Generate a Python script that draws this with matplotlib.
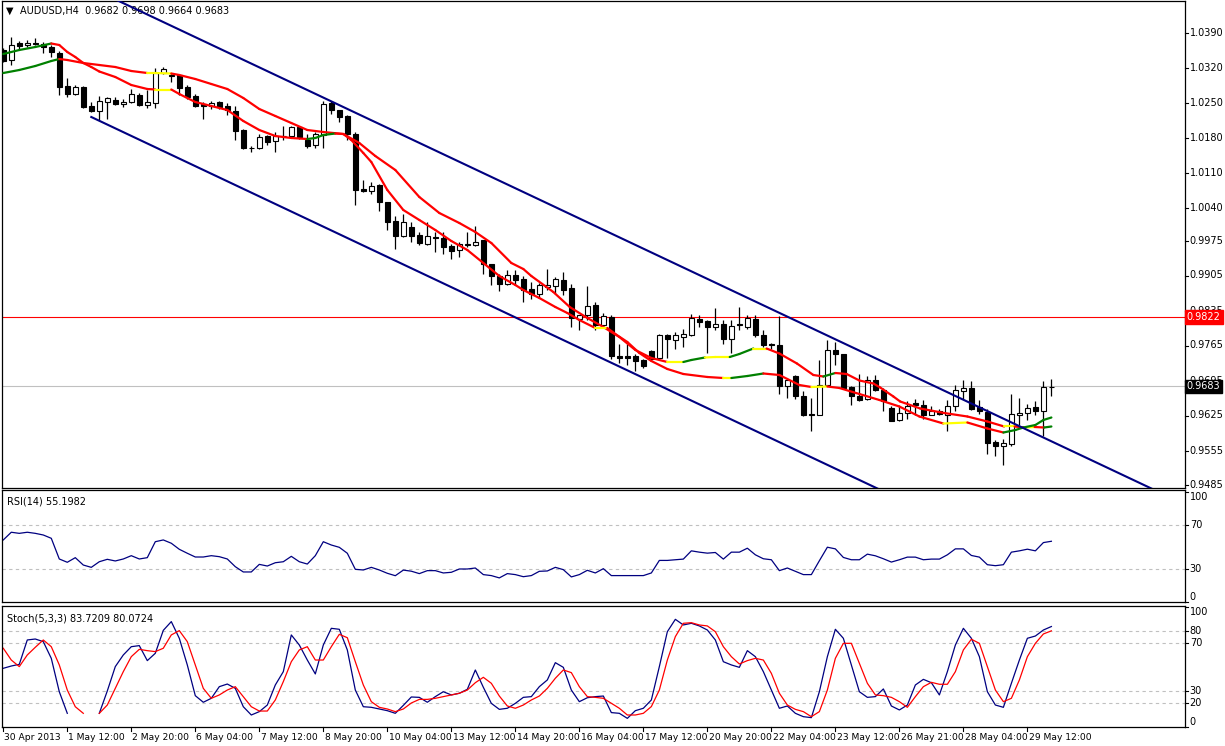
import numpy as np
import matplotlib
matplotlib.use("Agg")
import matplotlib.pyplot as plt
from matplotlib.collections import LineCollection

plt.rcParams['font.family'] = ['DejaVu Sans']

# ---- price data (AUDUSD H4), one entry per bar ----
opens = [1.0356, 1.0336, 1.0371, 1.0367, 1.0371, 1.0369, 1.0362, 1.0351, 1.0284, 1.0269,
         1.0282, 1.0245, 1.0235, 1.0253, 1.0257, 1.0249, 1.0253, 1.0266, 1.0246, 1.0251,
         1.0311, 1.0307, 1.0306, 1.0282, 1.0264, 1.0249, 1.0245, 1.0252, 1.0244, 1.0235,
         1.0196, 1.0161, 1.0161, 1.0184, 1.0175, 1.0185, 1.0185, 1.0201, 1.0176, 1.0166,
         1.0186, 1.0251, 1.0235, 1.0224, 1.0189, 1.0078, 1.0074, 1.0086, 1.0051, 1.0014,
         0.9985, 1.0002, 0.9985, 0.9969, 0.9982, 0.9980, 0.9964, 0.9956, 0.9967, 0.9967,
         0.9975, 0.9928, 0.9904, 0.9889, 0.9905, 0.9899, 0.9878, 0.9869, 0.9883, 0.9885,
         0.9896, 0.9879, 0.9819, 0.9826, 0.9845, 0.9806, 0.9823, 0.9744, 0.9744, 0.9744,
         0.9736, 0.9753, 0.9741, 0.9785, 0.9777, 0.9783, 0.9787, 0.9818, 0.9814, 0.9803,
         0.9809, 0.9779, 0.9808, 0.9803, 0.9818, 0.9787, 0.9768, 0.9766, 0.9685, 0.9704,
         0.9664, 0.9629, 0.9627, 0.9687, 0.9756, 0.9748, 0.9681, 0.9664, 0.9659, 0.9696,
         0.9676, 0.9641, 0.9617, 0.9631, 0.9651, 0.9647, 0.9627, 0.9633, 0.9627, 0.9643,
         0.9675, 0.9681, 0.9641, 0.9633, 0.9571, 0.9564, 0.9568, 0.9627, 0.9631, 0.9641,
         0.9633, 0.9682]
highs = [1.0360, 1.0383, 1.0374, 1.0377, 1.0380, 1.0373, 1.0366, 1.0354, 1.0300, 1.0286,
         1.0284, 1.0252, 1.0264, 1.0263, 1.0263, 1.0258, 1.0278, 1.0271, 1.0276, 1.0321,
         1.0323, 1.0311, 1.0309, 1.0286, 1.0269, 1.0253, 1.0254, 1.0254, 1.0251, 1.0245,
         1.0198, 1.0165, 1.0188, 1.0186, 1.0193, 1.0204, 1.0204, 1.0204, 1.0189, 1.0193,
         1.0255, 1.0254, 1.0237, 1.0226, 1.0193, 1.0096, 1.0093, 1.0089, 1.0053, 1.0024,
         1.0029, 1.0013, 0.9993, 1.0013, 0.9993, 0.9993, 0.9969, 0.9973, 0.9993, 1.0004,
         0.9976, 0.9929, 0.9909, 0.9916, 0.9916, 0.9904, 0.9893, 0.9891, 0.9919, 0.9903,
         0.9913, 0.9888, 0.9826, 0.9884, 0.9853, 0.9831, 0.9826, 0.9769, 0.9769, 0.9749,
         0.9739, 0.9756, 0.9788, 0.9789, 0.9793, 0.9799, 0.9828, 0.9826, 0.9816, 0.9841,
         0.9816, 0.9816, 0.9843, 0.9826, 0.9826, 0.9796, 0.9771, 0.9825, 0.9701, 0.9706,
         0.9673, 0.9660, 0.9736, 0.9777, 0.9773, 0.9749, 0.9684, 0.9709, 0.9704, 0.9706,
         0.9681, 0.9643, 0.9643, 0.9653, 0.9658, 0.9656, 0.9643, 0.9639, 0.9656, 0.9686,
         0.9696, 0.9693, 0.9656, 0.9639, 0.9576, 0.9579, 0.9669, 0.9661, 0.9649, 0.9653,
         0.9693, 0.9698]
lows = [1.0332, 1.0327, 1.0358, 1.0362, 1.0366, 1.0351, 1.0343, 1.0266, 1.0263, 1.0266,
        1.0241, 1.0233, 1.0216, 1.0218, 1.0246, 1.0243, 1.0251, 1.0244, 1.0241, 1.0241,
        1.0309, 1.0293, 1.0267, 1.0259, 1.0243, 1.0219, 1.0238, 1.0239, 1.0227, 1.0176,
        1.0159, 1.0153, 1.0159, 1.0166, 1.0153, 1.0176, 1.0183, 1.0179, 1.0160, 1.0161,
        1.0161, 1.0229, 1.0213, 1.0176, 1.0046, 1.0073, 1.0069, 1.0035, 0.9996, 0.9959,
        0.9983, 0.9973, 0.9966, 0.9966, 0.9953, 0.9949, 0.9939, 0.9943, 0.9963, 0.9964,
        0.9909, 0.9886, 0.9875, 0.9886, 0.9889, 0.9853, 0.9859, 0.9863, 0.9876, 0.9869,
        0.9866, 0.9803, 0.9796, 0.9816, 0.9796, 0.9803, 0.9739, 0.9731, 0.9726, 0.9713,
        0.9721, 0.9733, 0.9739, 0.9741, 0.9759, 0.9763, 0.9785, 0.9803, 0.9751, 0.9796,
        0.9769, 0.9751, 0.9797, 0.9799, 0.9783, 0.9763, 0.9759, 0.9669, 0.9661, 0.9659,
        0.9624, 0.9593, 0.9626, 0.9684, 0.9726, 0.9679, 0.9646, 0.9653, 0.9656, 0.9673,
        0.9633, 0.9613, 0.9613, 0.9619, 0.9626, 0.9619, 0.9626, 0.9626, 0.9595, 0.9633,
        0.9659, 0.9636, 0.9629, 0.9548, 0.9544, 0.9526, 0.9563, 0.9606, 0.9616, 0.9626,
        0.9583, 0.9664]
closes = [1.0334, 1.0367, 1.0365, 1.0371, 1.0369, 1.0362, 1.0353, 1.0283, 1.0269, 1.0282,
          1.0243, 1.0235, 1.0253, 1.0260, 1.0249, 1.0253, 1.0268, 1.0246, 1.0252, 1.0311,
          1.0319, 1.0305, 1.0281, 1.0263, 1.0245, 1.0245, 1.0251, 1.0243, 1.0236, 1.0195,
          1.0161, 1.0160, 1.0183, 1.0173, 1.0184, 1.0184, 1.0201, 1.0183, 1.0165, 1.0189,
          1.0249, 1.0236, 1.0223, 1.0189, 1.0077, 1.0074, 1.0085, 1.0051, 1.0013, 0.9985,
          1.0012, 0.9985, 0.9971, 0.9983, 0.9980, 0.9963, 0.9955, 0.9969, 0.9969, 0.9972,
          0.9929, 0.9904, 0.9889, 0.9905, 0.9897, 0.9876, 0.9869, 0.9886, 0.9886, 0.9897,
          0.9876, 0.9821, 0.9826, 0.9844, 0.9806, 0.9824, 0.9743, 0.9741, 0.9741, 0.9734,
          0.9723, 0.9739, 0.9786, 0.9779, 0.9785, 0.9787, 0.9820, 0.9813, 0.9803, 0.9807,
          0.9779, 0.9805, 0.9807, 0.9820, 0.9786, 0.9766, 0.9767, 0.9684, 0.9696, 0.9663,
          0.9626, 0.9627, 0.9687, 0.9757, 0.9749, 0.9681, 0.9663, 0.9657, 0.9696, 0.9676,
          0.9653, 0.9615, 0.9629, 0.9643, 0.9646, 0.9626, 0.9633, 0.9629, 0.9644, 0.9676,
          0.9681, 0.9639, 0.9633, 0.9571, 0.9563, 0.9569, 0.9627, 0.9631, 0.9639, 0.9633,
          0.9681, 0.9683]

# ---- moving averages, sampled along the bars ----
ma_fast_bars = [0, 2, 4, 6, 7, 8, 9, 10, 11, 12, 14, 16, 18, 19, 21, 22, 24, 26, 28, 30,
                32, 34, 36, 38, 39, 40, 41.5, 42.5, 43.5, 45, 46, 48, 50, 52, 54, 56, 58, 60,
                62, 64, 65, 67, 69, 70.5, 72, 74, 75.5, 76.5, 78, 79.5, 81, 83, 85, 88, 90,
                91, 93, 95, 97, 99.5, 101, 103, 104.5, 107, 109.5, 112, 114.5, 117.5, 120.5,
                123, 125, 126.5, 127.5, 129, 130, 131]
ma_fast = [1.0348, 1.0356, 1.0362, 1.0369, 1.0366, 1.0352, 1.0342, 1.0330, 1.0322, 1.0313,
           1.0302, 1.0286, 1.0278, 1.0277, 1.0277, 1.0268, 1.0252, 1.0244, 1.0236, 1.0214,
           1.0196, 1.0184, 1.0180, 1.0178, 1.0180, 1.0186, 1.0189, 1.0188, 1.0176, 1.0150,
           1.0132, 1.0076, 1.0036, 1.0016, 0.9996, 0.9974, 0.9956, 0.9930, 0.9904, 0.9886,
           0.9876, 0.9860, 0.9842, 0.9830, 0.9816, 0.9800, 0.9800, 0.9788, 0.9772, 0.9750,
           0.9734, 0.9718, 0.9708, 0.9702, 0.9700, 0.9700, 0.9704, 0.9709, 0.9706, 0.9686,
           0.9682, 0.9683, 0.9680, 0.9668, 0.9656, 0.9643, 0.9623, 0.9609, 0.9611, 0.9599,
           0.9591, 0.9596, 0.9601, 0.9606, 0.9616, 0.9621]
ma_slow_bars = [0, 2, 4, 6, 7, 8, 10, 12, 14, 16, 18, 19, 21, 22, 24, 26, 28, 30, 32, 34,
                36, 38, 40, 42.5, 44.5, 46.5, 49, 52, 54.5, 57, 59, 61, 63.5, 65, 66, 68.75,
                70.8, 73, 75, 77, 79, 81, 83, 85, 86, 87.7, 89, 90.8, 92, 93.75, 95.4, 97,
                99.2, 101.25, 102.5, 104, 105.4, 107, 108.75, 109.6, 111.25, 112.1, 114.6,
                117.6, 120.5, 123, 125.1, 126.4, 127.6, 128.9, 130.1, 131]
ma_slow = [1.0310, 1.0316, 1.0324, 1.0334, 1.0338, 1.0336, 1.0330, 1.0326, 1.0322, 1.0314,
           1.0310, 1.0310, 1.0309, 1.0306, 1.0298, 1.0288, 1.0278, 1.0260, 1.0238, 1.0224,
           1.0210, 1.0196, 1.0192, 1.0188, 1.0170, 1.0144, 1.0116, 1.0062, 1.0030, 1.0010,
           0.9992, 0.9970, 0.9930, 0.9918, 0.9904, 0.9872, 0.9842, 0.9820, 0.9802, 0.9782,
           0.9756, 0.9740, 0.9732, 0.9732, 0.9736, 0.9741, 0.9742, 0.9742, 0.9748, 0.9759,
           0.9759, 0.9749, 0.9729, 0.9706, 0.9703, 0.9710, 0.9708, 0.9695, 0.9689, 0.9681,
           0.9663, 0.9653, 0.9639, 0.9630, 0.9623, 0.9613, 0.9603, 0.9603, 0.9601, 0.9602,
           0.9601, 0.9603]

# ---- channel and horizontal levels ----
upper_channel_bars = [0, 148]
upper_channel = [1.0563, 0.9445]
lower_channel_bars = [11, 148]
lower_channel = [1.0222, 0.9186]
resistance = 0.9822
bid = 0.9683

# ---- oscillators ----
rsi = [56.4, 63.4, 62.4, 63.4, 62.4, 60.9, 57.9, 39.1, 36.1, 40.3,
       33.6, 31.5, 36.6, 38.8, 37.3, 39.1, 42.1, 39.1, 40.3, 54.8,
       56.4, 53.4, 47.9, 44.3, 40.9, 40.9, 42.1, 41.2, 39.1, 32.1,
       27.3, 27.3, 34.2, 32.7, 35.7, 36.6, 41.5, 36.6, 34.5, 42.1,
       54.8, 51.8, 49.7, 44.3, 29.7, 29.1, 31.5, 29.1, 26.1, 23.9,
       29.0, 28.0, 25.8, 28.5, 28.5, 26.4, 27.0, 30.0, 30.0, 30.9,
       24.9, 24.0, 21.9, 25.8, 24.9, 23.0, 24.0, 27.9, 28.2, 31.5,
       29.4, 22.8, 24.9, 28.8, 26.4, 30.3, 24.0, 24.0, 24.0, 24.0,
       24.0, 26.4, 37.8, 37.8, 38.4, 39.0, 46.5, 45.3, 44.4, 45.0,
       39.0, 45.3, 45.3, 48.9, 42.9, 39.3, 38.4, 28.5, 30.9, 27.9,
       24.9, 24.9, 37.5, 49.8, 48.3, 40.5, 38.4, 38.4, 43.5, 42.0,
       39.3, 36.3, 38.4, 40.8, 40.8, 38.4, 39.0, 39.0, 42.9, 48.3,
       48.3, 42.3, 40.8, 33.9, 33.0, 33.9, 45.3, 46.5, 48.0, 46.5,
       54.0, 55.2]
nan = float('nan')
stoch_k = [48.9, 50.8, 52.2, 72.5, 73.3, 71.1, 57.2, 29.4, 11.4, nan,
           nan, nan, 11.4, 30.0, 50.3, 60.0, 66.9, 67.8, 55.3, 61.4,
           80.5, 87.8, 73.9, 51.7, 26.1, 20.6, 23.9, 33.6, 35.8, 32.2,
           16.9, 10.0, 12.8, 18.3, 35.0, 46.1, 76.7, 68.3, 55.8, 44.2,
           68.3, 82.2, 81.4, 64.2, 30.8, 16.9, 16.4, 15.0, 13.6, 11.4,
           18.0, 25.0, 24.7, 20.6, 25.3, 29.4, 26.7, 28.1, 31.4, 47.5,
           33.1, 19.7, 14.7, 15.6, 19.7, 24.7, 25.3, 33.6, 39.2, 53.6,
           49.7, 30.8, 21.1, 24.4, 25.3, 25.8, 12.0, 11.4, 7.2, 13.6,
           15.6, 22.5, 50.3, 79.4, 89.7, 85.0, 86.4, 84.2, 80.8, 72.5,
           54.4, 51.7, 49.7, 63.6, 58.6, 46.1, 30.8, 15.6, 17.5, 11.4,
           8.6, 7.8, 29.4, 58.6, 81.4, 73.9, 51.7, 29.4, 24.7, 25.3,
           31.7, 17.5, 14.2, 18.3, 35.0, 39.7, 36.9, 26.7, 46.1, 68.3,
           82.2, 73.9, 58.6, 29.4, 18.3, 16.4, 36.4, 55.8, 73.9, 75.8,
           80.8, 83.7]
stoch_d = [65.6, 55.8, 50.3, 60.0, 66.4, 72.5, 66.9, 51.7, 30.8, 16.9,
           11.4, nan, 11.4, 18.3, 32.2, 46.1, 58.6, 64.7, 63.6, 62.8,
           65.6, 76.7, 80.3, 71.1, 51.7, 32.2, 23.9, 26.7, 30.8, 33.6,
           25.3, 16.9, 13.3, 13.3, 22.5, 37.8, 54.4, 64.2, 66.9, 55.8,
           55.8, 66.9, 77.2, 74.4, 54.4, 35.0, 21.1, 16.4, 15.0, 12.8,
           15.0, 20.0, 23.0, 23.0, 23.9, 25.3, 26.7, 28.1, 30.8, 36.9,
           41.4, 36.4, 25.8, 17.5, 15.6, 18.3, 22.5, 25.8, 32.2, 40.6,
           47.5, 45.3, 33.6, 25.3, 24.7, 23.9, 19.7, 15.6, 10.0, 10.0,
           11.4, 17.0, 30.8, 55.8, 75.3, 86.4, 86.9, 85.0, 84.2, 79.4,
           66.9, 58.6, 52.5, 55.3, 57.2, 55.8, 44.7, 28.1, 18.3, 14.7,
           12.8, 8.6, 12.8, 30.8, 57.2, 69.7, 69.7, 53.1, 36.4, 26.7,
           26.1, 24.7, 21.1, 16.4, 25.3, 33.6, 37.2, 35.6, 35.6, 46.1,
           64.2, 73.1, 69.7, 50.3, 30.8, 21.1, 23.9, 39.2, 58.6, 69.7,
           77.5, 80.1]

price_ticks = [1.0390, 1.0320, 1.0250, 1.0180, 1.0110, 1.0040, 0.9975,
               0.9905, 0.9835, 0.9765, 0.9695, 0.9625, 0.9555, 0.9485]
rsi_ticks = [100, 70, 30, 0]
stoch_ticks = [100, 80, 70, 30, 20, 0]
time_tick_bars = list(range(0, 129, 8))
time_labels = ['30 Apr 2013', '1 May 12:00', '2 May 20:00', '6 May 04:00',
               '7 May 12:00', '8 May 20:00', '10 May 04:00', '13 May 12:00',
               '14 May 20:00', '16 May 04:00', '17 May 12:00', '20 May 20:00',
               '22 May 04:00', '23 May 12:00', '26 May 21:00', '28 May 04:00',
               '29 May 12:00']

W, H = 1225, 746
FS = 7          # right-hand scale labels and captions
FS_TIME = 6.6   # time axis labels (tight spacing)


def rect(x0, y0, x1, y1):
    return [x0 / W, 1 - y1 / H, (x1 - x0) / W, (y1 - y0) / H]


def setup_panel(ax, ylim):
    ax.set_xlim(-0.16, 147.7)
    ax.set_ylim(*ylim)
    ax.set_facecolor('white')
    for s in ax.spines.values():
        s.set_linewidth(0.9)
        s.set_color('black')
    ax.set_xticks([])
    ax.set_yticks([])


def right_labels(ax, ticks, shift_ends=False):
    # tick marks on the right border plus labels, MT4 style
    trans = ax.get_yaxis_transform()
    for t in ticks:
        ax.plot([1.0, 1.0025], [t, t], color='black', linewidth=0.8,
                transform=trans, clip_on=False)
        va = 'center'
        if shift_ends and t == max(ticks):
            va = 'top'
        elif shift_ends and t == min(ticks):
            va = 'bottom'
        ax.text(1.004, t, ('%.4f' % t) if isinstance(t, float) else str(t),
                transform=trans, ha='left', va=va, fontsize=FS, clip_on=False)


def ma_colors(bars, vals, thr=0.00008):
    cols = []
    for i in range(len(vals) - 1):
        slope = (vals[i + 1] - vals[i]) / (bars[i + 1] - bars[i])
        if slope > thr:
            cols.append('#008000')
        elif slope < -thr:
            cols.append('#ff0000')
        else:
            cols.append('#ffff00')
    return cols


fig = plt.figure(figsize=(W / 100, H / 100), dpi=100)
fig.patch.set_facecolor('white')

ax = fig.add_axes(rect(2, 1, 1185, 488))
ax_rsi = fig.add_axes(rect(2, 490, 1185, 602))
ax_st = fig.add_axes(rect(2, 606, 1185, 727))

setup_panel(ax, (0.9480, 1.0454))
setup_panel(ax_rsi, (0, 101.8))
setup_panel(ax_st, (0, 100.8))
right_labels(ax, price_ticks)
right_labels(ax_rsi, rsi_ticks, shift_ends=True)
right_labels(ax_st, stoch_ticks, shift_ends=True)

# candles
x = np.arange(len(closes))
o = np.array(opens)
c = np.array(closes)
ax.vlines(x, lows, highs, color='black', linewidth=0.9, zorder=3)
up = c >= o
ax.bar(x[up], (c - o)[up], bottom=o[up], width=0.6, color='white',
       edgecolor='black', linewidth=0.8, zorder=4)
ax.bar(x[~up], (o - c)[~up], bottom=c[~up], width=0.6, color='black',
       edgecolor='black', linewidth=0.8, zorder=4)

# moving averages
for bars, vals in ((ma_slow_bars, ma_slow), (ma_fast_bars, ma_fast)):
    pts = np.column_stack([bars, vals])
    segs = np.stack([pts[:-1], pts[1:]], axis=1)
    lc = LineCollection(segs, colors=ma_colors(bars, vals), linewidths=1.6,
                        capstyle='round', zorder=5)
    ax.add_collection(lc)

# channel
ax.plot(upper_channel_bars, upper_channel, color='#000080', linewidth=1.5, zorder=6)
ax.plot(lower_channel_bars, lower_channel, color='#000080', linewidth=1.5, zorder=6)

# horizontal levels
ax.axhline(resistance, color='#ff0000', linewidth=0.8, zorder=2)
ax.axhline(bid, color='#c0c0c0', linewidth=0.8, zorder=2)
for lvl, bg in ((resistance, '#ff0000'), (bid, 'black')):
    ax.text(1.0015, lvl, '%.4f' % lvl, transform=ax.get_yaxis_transform(),
            ha='left', va='center', fontsize=FS, color='white', zorder=10, clip_on=False,
            bbox=dict(boxstyle='square,pad=0.2', fc=bg, ec=bg))

ax.text(0.0035, 0.979, '\u25bc', transform=ax.transAxes, fontsize=7, va='center')
ax.text(0.015, 0.979, 'AUDUSD,H4  %.4f %.4f %.4f %.4f' % (opens[-1], highs[-1], lows[-1], closes[-1]),
        transform=ax.transAxes, fontsize=FS, va='center')

# RSI
dash = dict(color='#c0c0c0', linewidth=0.8, linestyle=(0, (3, 3)))
for lvl in (70, 30):
    ax_rsi.axhline(lvl, **dash)
ax_rsi.plot(x, rsi, color='#000080', linewidth=0.9)
ax_rsi.text(0.004, 0.9, 'RSI(14) 55.1982', transform=ax_rsi.transAxes, fontsize=FS, va='center')

# Stochastic
for lvl in (80, 70, 30, 20):
    ax_st.axhline(lvl, **dash)
ax_st.plot(x, stoch_k, color='#000080', linewidth=0.9)
ax_st.plot(x, stoch_d, color='#ff0000', linewidth=0.9)
ax_st.text(0.004, 0.9, 'Stoch(5,3,3) 83.7209 80.0724', transform=ax_st.transAxes,
           fontsize=FS, va='center')

# time axis
xt = ax_st.get_xaxis_transform()
for b, lab in zip(time_tick_bars, time_labels):
    ax_st.plot([b, b], [0, -0.03], color='black', linewidth=0.8, transform=xt, clip_on=False)
    ax_st.text(b + 0.15, -0.085, lab, transform=xt, ha='left', va='center', fontsize=FS_TIME)

fig.savefig('out.png', dpi=100, facecolor='white')
